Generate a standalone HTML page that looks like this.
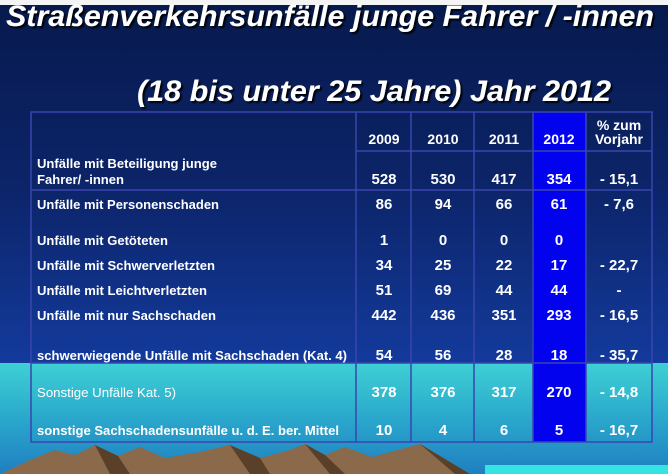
<!DOCTYPE html>
<html><head><meta charset="utf-8"><style>
html,body{margin:0;padding:0;width:668px;height:474px;overflow:hidden;background:#fff}
svg{display:block}
text{font-family:"Liberation Sans",Arial,sans-serif;fill:#fff;font-weight:bold}
text.n{font-weight:normal}
</style></head><body>
<svg width="668" height="474" viewBox="0 0 668 474" xmlns="http://www.w3.org/2000/svg">
<defs>
<linearGradient id="bg" x1="0" y1="0" x2="0" y2="1">
<stop offset="0" stop-color="#071a4e"/><stop offset="0.5" stop-color="#0c2468"/><stop offset="1" stop-color="#133a9c"/>
</linearGradient>
<linearGradient id="cy" x1="0" y1="0" x2="0" y2="1">
<stop offset="0" stop-color="#3ed0d4"/><stop offset="0.5" stop-color="#2aa8cc"/><stop offset="1" stop-color="#1f7fc0"/>
</linearGradient>
<filter id="sh"><feDropShadow dx="2" dy="2" stdDeviation="0.8" flood-color="#000" flood-opacity="0.9"/></filter>
</defs>
<rect x="0" y="0" width="668" height="474" fill="#f4f4f4"/>
<rect x="0" y="5" width="668" height="358" fill="url(#bg)"/>
<rect x="0" y="363" width="668" height="111" fill="url(#cy)"/>
<rect x="533" y="112" width="53" height="330" fill="#0202ee"/>
<!-- mountains -->
<polygon points="0,474 30,460 55,450 75,455 95,445 118,456 140,447 165,458 200,452 230,445 260,458 290,450 305,444 325,455 345,447 372,457 398,450 420,444 440,456 470,474" fill="#8a6a4a"/>
<polygon points="95,445 110,474 130,474 118,456" fill="#5a4028"/>
<polygon points="230,445 250,474 270,474 260,458" fill="#5a4028"/>
<polygon points="305,444 330,474 345,474 325,455" fill="#5a4028"/>
<polygon points="420,444 455,474 470,474 440,456" fill="#5a4028"/>
<rect x="485" y="465" width="183" height="9" fill="#35e3e3"/>
<!-- title -->
<g filter="url(#sh)" font-style="italic">
<text x="6" y="26" font-size="30" textLength="648" lengthAdjust="spacingAndGlyphs">Straßenverkehrsunfälle junge Fahrer / -innen</text>
<text x="137" y="101" font-size="30" textLength="474" lengthAdjust="spacingAndGlyphs">(18 bis unter 25 Jahre) Jahr 2012</text>
</g>
<!-- grid -->
<g stroke="#3a44b0" stroke-width="1.5" fill="none">
<rect x="31" y="112" width="621" height="330"/>
<line x1="356" y1="112" x2="356" y2="442"/><line x1="411" y1="112" x2="411" y2="442"/>
<line x1="474" y1="112" x2="474" y2="442"/><line x1="533" y1="112" x2="533" y2="442"/>
<line x1="586" y1="112" x2="586" y2="442"/>
<line x1="356" y1="151" x2="652" y2="151"/>
<line x1="31" y1="190" x2="652" y2="190"/>
<line x1="31" y1="363" x2="652" y2="363"/>
</g>
<g font-size="14">
<text x="384" y="144" text-anchor="middle">2009</text>
<text x="443" y="144" text-anchor="middle">2010</text>
<text x="504" y="144" text-anchor="middle">2011</text>
<text x="559" y="144" text-anchor="middle">2012</text>
<text x="619" y="130" text-anchor="middle">%  zum</text>
<text x="619" y="144" text-anchor="middle">Vorjahr</text>
</g>
<g font-size="13">
<text x="37" y="168" textLength="180" lengthAdjust="spacingAndGlyphs">Unfälle mit Beteiligung junge</text>
<text x="37" y="184" textLength="87" lengthAdjust="spacingAndGlyphs">Fahrer/ -innen</text>
<text x="37" y="209" textLength="182" lengthAdjust="spacingAndGlyphs">Unfälle mit Personenschaden</text>
<text x="37" y="245" textLength="131" lengthAdjust="spacingAndGlyphs">Unfälle mit Getöteten</text>
<text x="37" y="270" textLength="178" lengthAdjust="spacingAndGlyphs">Unfälle mit Schwerverletzten</text>
<text x="37" y="295" textLength="170" lengthAdjust="spacingAndGlyphs">Unfälle mit Leichtverletzten</text>
<text x="37" y="320" textLength="179" lengthAdjust="spacingAndGlyphs">Unfälle mit nur Sachschaden</text>
<text x="37" y="360" textLength="310" lengthAdjust="spacingAndGlyphs">schwerwiegende Unfälle mit Sachschaden (Kat. 4)</text>
<text class="n" x="37" y="397" textLength="139" lengthAdjust="spacingAndGlyphs">Sonstige Unfälle Kat. 5)</text>
<text x="37" y="435" textLength="302" lengthAdjust="spacingAndGlyphs">sonstige Sachschadensunfälle u. d. E. ber. Mittel</text>
</g>
<g font-size="15" text-anchor="middle">
<text x="384" y="184">528</text><text x="443" y="184">530</text><text x="504" y="184">417</text><text x="559" y="184">354</text><text x="619" y="184">- 15,1</text>
<text x="384" y="209">86</text><text x="443" y="209">94</text><text x="504" y="209">66</text><text x="559" y="209">61</text><text x="619" y="209">- 7,6</text>
<text x="384" y="245">1</text><text x="443" y="245">0</text><text x="504" y="245">0</text><text x="559" y="245">0</text>
<text x="384" y="270">34</text><text x="443" y="270">25</text><text x="504" y="270">22</text><text x="559" y="270">17</text><text x="619" y="270">- 22,7</text>
<text x="384" y="295">51</text><text x="443" y="295">69</text><text x="504" y="295">44</text><text x="559" y="295">44</text><text x="619" y="295">-</text>
<text x="384" y="320">442</text><text x="443" y="320">436</text><text x="504" y="320">351</text><text x="559" y="320">293</text><text x="619" y="320">- 16,5</text>
<text x="384" y="360">54</text><text x="443" y="360">56</text><text x="504" y="360">28</text><text x="559" y="360">18</text><text x="619" y="360">- 35,7</text>
<text x="384" y="397">378</text><text x="443" y="397">376</text><text x="504" y="397">317</text><text x="559" y="397">270</text><text x="619" y="397">- 14,8</text>
<text x="384" y="435">10</text><text x="443" y="435">4</text><text x="504" y="435">6</text><text x="559" y="435">5</text><text x="619" y="435">- 16,7</text>
</g>
</svg>
</body></html>
